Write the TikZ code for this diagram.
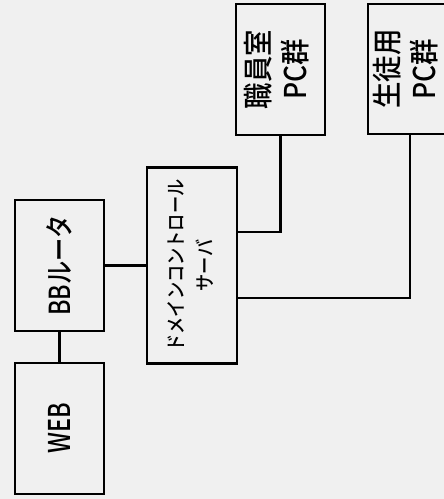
\documentclass[tikz,border=0pt]{standalone}
\usepackage{fontspec}
\setmainfont{Noto Sans CJK JP}[BoldFont=* Medium]
\definecolor{paper}{RGB}{240,240,240}
\begin{document}
\begin{tikzpicture}[x=1pt,y=-1pt,
  box/.style={draw=black,line width=2.8pt,fill=paper,inner sep=0pt,anchor=center,align=center,font=\bfseries},
  link/.style={draw=black,line width=2.8pt}]
\useasboundingbox (0,0) rectangle (444,499);
\clip (0,0) rectangle (444,499);
\fill[paper] (0,0) rectangle (444,499);
% boxes
\node[box,minimum width=89pt,minimum height=131pt] (web) at (59.5,428.5)
  {\rotatebox{90}{\fontsize{30}{36}\selectfont\scalebox{0.78}[1]{WEB}}};
\node[box,minimum width=89pt,minimum height=131pt] (bb) at (59.5,265.5)
  {\rotatebox{90}{\fontsize{29}{34}\selectfont\scalebox{0.8}[1]{BBルータ}}};
\node[box,minimum width=90pt,minimum height=196pt] (dom) at (192,265.5)
  {\rotatebox{90}{\fontsize{20}{30}\selectfont\begin{tabular}{@{}c@{}}\scalebox{0.86}[1]{ドメインコントロール}\\[-2pt]\scalebox{0.86}[1]{サーバ}\end{tabular}}};
\node[box,minimum width=89pt,minimum height=131pt] (sho) at (280.5,69.5)
  {\rotatebox{90}{\fontsize{30}{37}\selectfont\begin{tabular}{@{}c@{}}\scalebox{0.88}[1]{職員室}\\\scalebox{0.88}[1]{PC群}\end{tabular}}};
\node[box,minimum width=84pt,minimum height=130pt] (sei) at (410,69)
  {\rotatebox{90}{\fontsize{30}{37}\selectfont\begin{tabular}{@{}c@{}}\scalebox{0.88}[1]{生徒用}\\\scalebox{0.88}[1]{PC群}\end{tabular}}};
% connectors
\coordinate (y1) at (0,232);
\coordinate (y2) at (0,298);
\draw[link] (web.north) -- (bb.south);
\draw[link] (bb.east) -- (bb.east -| dom.west);
\draw[link] (sho.south) |- (dom.east |- y1);
\draw[link] (sei.south) |- (dom.east |- y2);
\end{tikzpicture}
\end{document}
